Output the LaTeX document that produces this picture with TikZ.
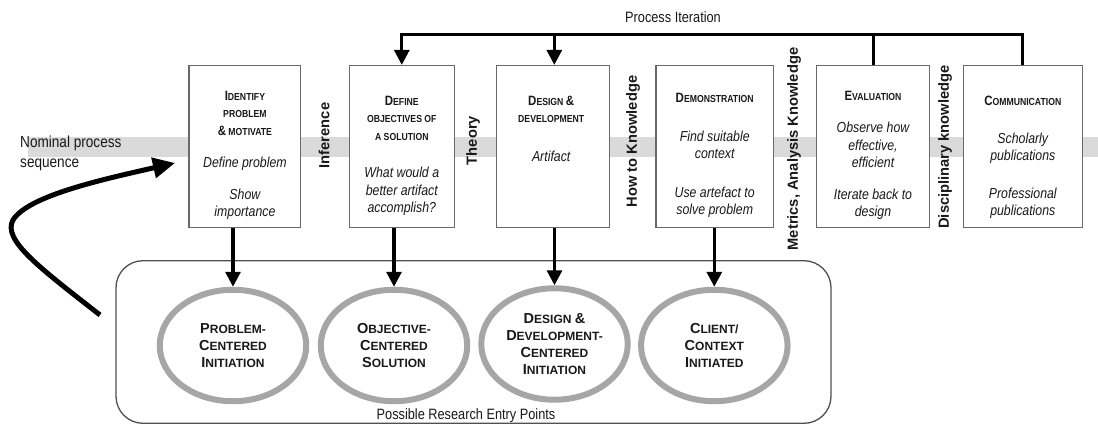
\documentclass[tikz,border=0pt]{standalone}
\usepackage{fontspec}
\setmainfont{Liberation Sans}
\newfontfamily\nar{Liberation Sans}[FakeStretch=0.85]
\usetikzlibrary{arrows.meta,shapes.geometric}
\definecolor{band}{RGB}{218,218,218}
\definecolor{ring}{RGB}{166,166,166}
\definecolor{boxline}{RGB}{105,105,105}
\definecolor{frameline}{RGB}{80,80,80}
\definecolor{txt}{RGB}{25,25,25}
\newcommand\Ti[1]{{\fontsize{13.5}{17.5}\selectfont #1}}
\newcommand\Eb[1]{{\fontsize{14.5}{17}\selectfont #1}}
\newcommand\It[1]{{\nar\itshape\mdseries\fontsize{14.5}{17.5}\selectfont #1}}
\begin{document}
\begin{tikzpicture}[x=1pt,y=-1pt,
  stagebox/.style={draw=boxline, line width=1.2pt, fill=white, minimum height=162pt, inner sep=0pt},
  stagetext/.style={anchor=north, align=center, inner sep=0pt, text=txt, font=\nar\bfseries\fontsize{10.2}{17.5}\selectfont},
  entry/.style={ellipse, draw=ring, line width=6pt, fill=white, minimum width=146.5pt, minimum height=111.5pt, inner sep=0pt, align=center, text=txt, font=\bfseries\fontsize{12}{17}\selectfont},
  rotlabel/.style={rotate=90, inner sep=0pt, text=txt, font=\bfseries\fontsize{14.7}{17}\selectfont},
  plainlabel/.style={inner sep=0pt, text=txt, font=\nar\fontsize{15}{18}\selectfont},
  conn/.style={line width=3.2pt, -{Triangle[length=15pt,width=15pt]}},
  iterline/.style={line width=3pt},
  iterarrow/.style={line width=3pt, -{Triangle[length=15pt,width=15pt]}}
]
\path[use as bounding box] (0,0) rectangle (1098,425);
% nominal process band
\fill[band] (28,136.7) rectangle (1098,156.7);
% entry points frame
\node[draw=frameline, line width=1.3pt, rounded corners=27pt, minimum width=715pt, minimum height=162.6pt, inner sep=0pt] (frame) at (473.5,342) {};
% stage boxes
\node[stagebox, minimum width=111.7pt] (b1) at (244.9,146.5) {};
\node[stagebox, minimum width=105pt]   (b2) at (401.8,146.5) {};
\node[stagebox, minimum width=112.3pt] (b3) at (553,146.5) {};
\node[stagebox, minimum width=117.3pt] (b4) at (714.7,146.5) {};
\node[stagebox, minimum width=112.6pt] (b5) at (873,146.5) {};
\node[stagebox, minimum width=119pt]   (b6) at (1022.8,146.5) {};
% box texts
\node[stagetext] (t1) at (244.9,90.9) {\Ti{I}DENTIFY\\PROBLEM\\\Ti{\&} MOTIVATE\\[14.5pt]\It{Define problem}\\[14.5pt]\It{Show}\\\It{importance}};
\node[stagetext] (t2) at (401.8,95.9) {\Ti{D}EFINE\\OBJECTIVES OF\\A SOLUTION\\[19.8pt]\It{What would a}\\\It{better artifact}\\\It{accomplish?}};
\node[stagetext] (t3) at (551.2,95.9) {\Ti{D}ESIGN \Ti{\&}\\DEVELOPMENT\\[21.2pt]\It{Artifact}};
\node[stagetext] (t4) at (714.7,93.5) {\Ti{D}EMONSTRATION\\[20.9pt]\It{Find suitable}\\\It{context}\\[20.9pt]\It{Use artefact to}\\\It{solve problem}};
\node[stagetext] (t5) at (873,90.9) {\Ti{E}VALUATION\\[15pt]\It{Observe how}\\\It{effective,}\\\It{efficient}\\[14pt]\It{Iterate back to}\\\It{design}};
\node[stagetext] (t6) at (1022.8,96.2) {\Ti{C}OMMUNICATION\\[19.8pt]\It{Scholarly}\\\It{publications}\\[20pt]\It{Professional}\\\It{publications}};
% rotated knowledge labels
\node[rotlabel] (l1) at (324,135.5) {Inference};
\node[rotlabel] (l2) at (473,140.5) {Theory};
\node[rotlabel] (l3) at (633,141.5) {How to Knowledge};
\node[rotlabel] (l4) at (794,149) {Metrics, Analysis Knowledge};
\node[rotlabel] (l5) at (945,147) {Disciplinary knowledge};
% other labels
\node[plainlabel, anchor=north west, align=left, font=\nar\fontsize{16}{20}\selectfont] (nom) at (20,135.4) {Nominal process\\sequence};
\node[plainlabel, anchor=base] (pit) at (673,22.5) {Process Iteration};
% entry ellipses
\node[entry] (e1) at (233,345.5) {\Eb{P}ROBLEM-\\\Eb{C}ENTERED\\\Eb{I}NITIATION};
\node[entry] (e2) at (394,345.5) {\Eb{O}BJECTIVE-\\\Eb{C}ENTERED\\\Eb{S}OLUTION};
\node[entry] (e3) at (554.5,344) {\Eb{D}ESIGN \Eb{\&}\\\Eb{D}EVELOPMENT-\\\Eb{C}ENTERED\\\Eb{I}NITIATION};
\node[entry] (e4) at (714.3,345.5) {\Eb{C}LIENT/\\\Eb{C}ONTEXT\\\Eb{I}NITIATED};
\node[plainlabel, anchor=base] (pre) at (466,419) {Possible Research Entry Points};
% box to entry connectors
\draw[conn] (e1.north |- b1.south) -- (e1.north);
\draw[conn] (e2.north |- b2.south) -- (e2.north);
\draw[conn] (e3.north |- b3.south) -- (e3.north);
\draw[conn] (e4.north |- b4.south) -- (e4.north);
% process iteration
\coordinate (it) at (1022.8,35);
\draw[iterarrow] (b6.north) -- (b6.north |- it) -| (b2.north);
\draw[iterline] (b5.north) -- (b5.north |- it);
\coordinate (it3) at (554.3,35);
\draw[iterarrow] (it3) -- (it3 |- b3.north);
% curved entry arrow
\coordinate (cs) at (100,315);
\coordinate (ce) at (175,163);
\draw[line width=5pt, -{Triangle[length=22pt,width=20pt]}] (cs) .. controls (40,268) and (2,240) .. (13,220) .. controls (28,196) and (100,180) .. (ce);
\end{tikzpicture}
\end{document}
